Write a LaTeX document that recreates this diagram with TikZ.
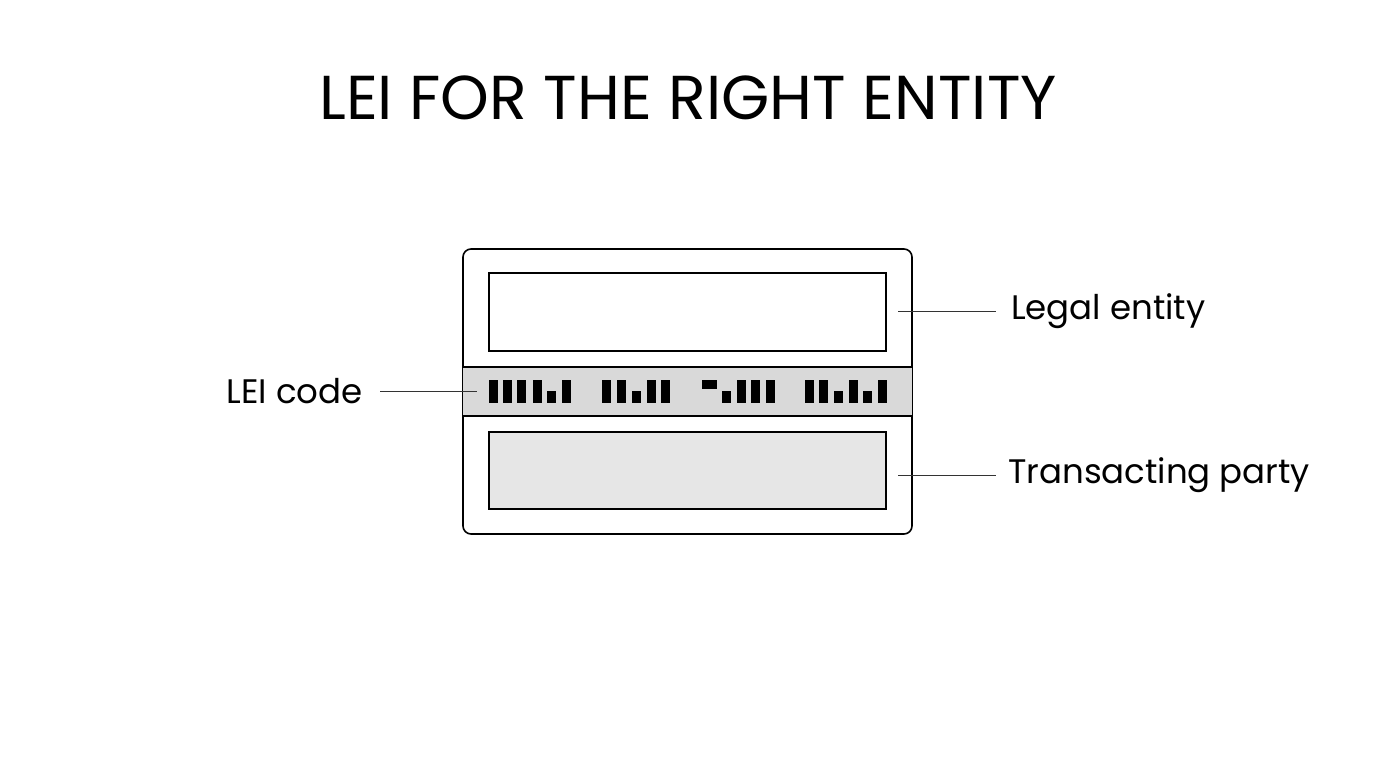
\documentclass[tikz,border=0pt]{standalone}
\usepackage{fontspec}
\setmainfont{Poppins}
\usepackage{tikz}
\usetikzlibrary{positioning}
\definecolor{band}{HTML}{D9D9D9}
\definecolor{pane}{HTML}{E6E6E6}
\tikzset{
  lbl/.style={font=\fontsize{34}{40}\selectfont, inner sep=0pt},
  lead/.style={draw=black!80, line width=0.8pt},
  bar/.style={fill=black}
}
\begin{document}
\begin{tikzpicture}[x=1pt,y=-1pt]
    \useasboundingbox (0,0) rectangle (1376,768);
    % Title
    \node[font=\fontsize{62}{70}\selectfont] (title) at (688,98) {LEI FOR THE RIGHT ENTITY};

    % Card
    \draw[line width=1.6pt, rounded corners=8pt] (463,249) rectangle (912,534);
    \fill[band] (463,367) rectangle (912,416);
    \draw[line width=1.6pt] (463,367) -- (912,367) (463,416) -- (912,416);
    \draw[line width=1.6pt] (489,273) rectangle (886,351);
    \draw[line width=1.6pt, fill=pane] (489,432) rectangle (886,509);

    % Code bars: tall ones
    \foreach \x in {489,503,517,533,562, 602,617,647,661, 737,751,766, 805,819,849,878} {
        \fill[bar] (\x,380) rectangle (\x+9,403);
    }
    % Short ones
    \foreach \x in {547,632,722,834,863} {
        \fill[bar] (\x,391) rectangle (\x+9,403);
    }
    \fill[bar] (702,380) rectangle (717,389);

    % Labels
    \coordinate (le) at (898,311);
    \coordinate (tp) at (898,475);
    \coordinate (lc) at (477,391);
    \node[lbl, anchor=west] (legal) at (1011,311) {Legal entity};
    \node[lbl, anchor=west] (party) at (1008,475) {Transacting party};
    \node[lbl, anchor=east] (code) at (363,391) {LEI code};
    \draw[lead] (le) -- ([xshift=-15pt]legal.west);
    \draw[lead] (tp) -- ([xshift=-12pt]party.west);
    \draw[lead] ([xshift=17pt]code.east) -- (lc);
\end{tikzpicture}
\end{document}
